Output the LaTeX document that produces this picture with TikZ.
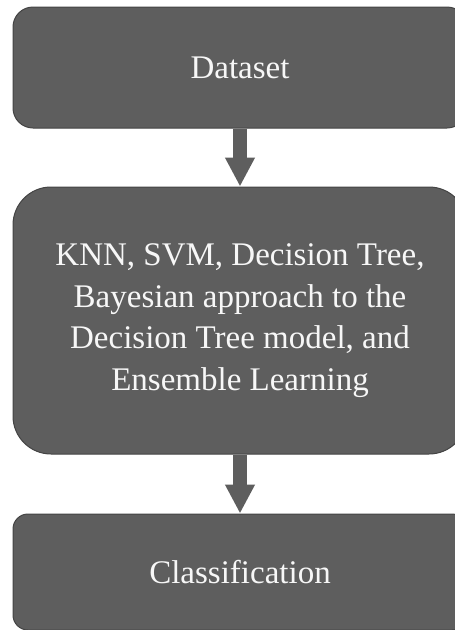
\documentclass[tikz,border=0pt]{standalone}
\usepackage{fontspec}
\setmainfont{Liberation Serif}
\usepackage{xcolor}
\usepackage{tikz}
\usetikzlibrary{arrows.meta, positioning}
\definecolor{boxgray}{HTML}{5E5E5E}
\definecolor{edgegray}{HTML}{444444}
\definecolor{txtwhite}{HTML}{F7F7F7}
\tikzset{
  stage/.style={rectangle, draw=edgegray, line width=1pt, fill=boxgray,
    text=txtwhite, align=center, minimum width=454pt,
    font=\fontsize{33}{41.7}\selectfont},
  flow/.style={-{Triangle[width=28pt, length=29pt]}, line width=14pt, boxgray},
}

\begin{document}
\begin{tikzpicture}[node distance=58pt]
\useasboundingbox (0,0) rectangle (455pt,-630pt);

% ---- Dataset ----
\node[stage, rounded corners=20pt, minimum height=121pt] (data) at (240pt,-67.5pt) {Dataset};

% ---- Models ----
\node[stage, rounded corners=38pt, minimum height=267pt, below=of data] (models) {
  KNN, SVM, Decision Tree,\\
  Bayesian approach to the\\
  Decision Tree model, and\\
  Ensemble Learning
};

% ---- Classification ----
\node[stage, rounded corners=15pt, minimum height=116pt, below=59pt of models] (cls) {Classification};

% ---- Flow ----
\draw[flow] (data.south) -- (models.north);
\draw[flow] (models.south) -- (cls.north);

\end{tikzpicture}
\end{document}
